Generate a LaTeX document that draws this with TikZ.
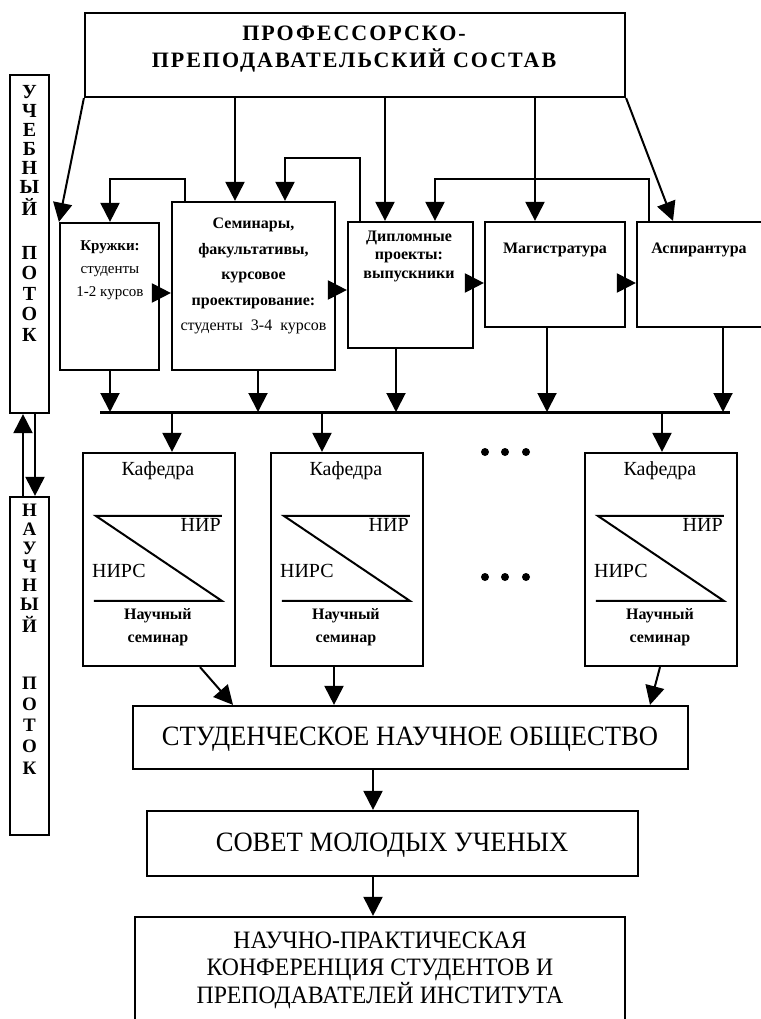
\documentclass[tikz,border=0pt]{standalone}
\usepackage{fontspec}
\setmainfont{Liberation Serif}
\newfontfamily\condfont[FakeStretch=0.95]{Liberation Serif}
\newfontfamily\spacedfont[LetterSpace=9]{Liberation Serif}
\usetikzlibrary{arrows.meta,positioning,fit}
\tikzset{
  box/.style={draw, line width=2.2pt, inner sep=0pt},
  arr/.style={-{Triangle[length=19pt,width=19pt]}, line width=2pt},
  vletter/.style={font=\bfseries\fontsize{20}{20}\selectfont, inner sep=0pt},
  vletters/.style={font=\bfseries\fontsize{19}{19}\selectfont, inner sep=0pt},
  kaftext/.style={font=\fontsize{20}{24}\selectfont, inner sep=0pt},
  semtext/.style={font=\bfseries\fontsize{16}{23}\selectfont, align=center, inner sep=0pt},
  bigtext/.style={font=\condfont\fontsize{28}{28}\selectfont, inner sep=0pt},
  conftext/.style={font=\condfont\fontsize{25}{27.5}\selectfont, align=center, inner sep=0pt},
  zline/.style={line width=2pt}
}
\begin{document}
\begin{tikzpicture}[x=1pt,y=-1pt]
\useasboundingbox (0,0) rectangle (760,1019);

% top box
\node[box, fit={(85,13)(625,97)}] (pps) {};
\node[font=\spacedfont\bfseries\fontsize{22}{27}\selectfont, align=center, inner sep=0pt] (ppst) at (354,49) {ПРОФЕССОРСКО-\\ПРЕПОДАВАТЕЛЬСКИЙ СОСТАВ};

% left vertical boxes
\node[box, fit={(10,75)(49,413)}] (ucheb) {};
\foreach \l/\y [count=\i] in {У/92,Ч/111,Е/130,Б/149,Н/168,Ы/187,Й/207,П/253,О/273,Т/294,О/314,К/335}
  \node[vletter] (u\i) at (29.5,\y) {\l};
\node[box, fit={(10,497)(49,835)}] (nauch) {};
\foreach \l/\y [count=\i] in {Н/510,А/529,У/548,Ч/566,Н/585,Ы/604,Й/624,П/683,О/704,Т/725,О/746,К/768}
  \node[vletters] (n\i) at (29.5,\y) {\l};
\draw[arr] (nauch.north -| 23,0) -- (ucheb.south -| 23,0);
\draw[arr] (ucheb.south -| 35,0) -- (nauch.north -| 35,0);

% row of boxes
\node[box, fit={(60,223)(159,370)}] (kr) {};
\node[box, fit={(172,202)(335,370)}] (sem) {};
\node[box, fit={(348,222)(473,348)}] (dip) {};
\node[box, fit={(485,222)(625,327)}] (mag) {};
\node[box, fit={(637,222)(766,327)}] (asp) {};

\node[font=\fontsize{15}{23}\selectfont, align=center, inner sep=0pt] (krt) at (110,270) {\textbf{Кружки:}\\студенты\\1-2 курсов};
\node[font=\fontsize{16}{25.5}\selectfont, align=center, inner sep=0pt] (semt) at (253.5,276) {\textbf{Семинары,}\\\textbf{факультативы,}\\\textbf{курсовое}\\\textbf{проектирование:}\\студенты\ \ 3-4\ \ курсов};
\node[font=\bfseries\fontsize{16}{18.5}\selectfont, align=center, inner sep=0pt] (dipt) at (409,256) {Дипломные\\проекты:\\выпускники};
\node[font=\bfseries\fontsize{16}{20}\selectfont, inner sep=0pt] (magt) at (555,250) {Магистратура};
\node[font=\bfseries\fontsize{16}{20}\selectfont, inner sep=0pt] (aspt) at (699,250) {Аспирантура};

% arrows from top box
\draw[arr] (pps.south west) -- (kr.north west);
\draw[arr] (pps.south -| 235,0) -- (sem.north -| 235,0);
\draw[arr] (pps.south -| 385,0) -- (dip.north -| 385,0);
\draw[arr] (pps.south -| 535,0) -- (mag.north -| 535,0);
\draw[arr] (pps.south east) -- (asp.north -| 673,0);

% feedback loops
\draw[arr] (sem.north -| 185,0) -- ++(0,-22) -| (kr.north -| 110,0);
\draw[arr] (dip.north -| 360,0) -- ++(0,-63) -| (sem.north -| 285,0);
\draw[arr] (asp.north -| 649,0) -- ++(0,-42) -| (dip.north -| 435,0);

% horizontal arrows
\draw[arr] (kr.east |- 0,293) -- (sem.west |- 0,293);
\draw[arr] (sem.east |- 0,290) -- (dip.west |- 0,290);
\draw[arr] (dip.east |- 0,283) -- (mag.west |- 0,283);
\draw[arr] (mag.east |- 0,283) -- (asp.west |- 0,283);

% bus
\coordinate (busL) at (100,412);
\coordinate (busR) at (730,412);
\draw[line width=3pt] (busL) -- (busR);
\draw[arr] (kr.south -| 110,0) -- (busL -| 110,0);
\draw[arr] (sem.south -| 258,0) -- (busL -| 258,0);
\draw[arr] (dip.south -| 396,0) -- (busL -| 396,0);
\draw[arr] (mag.south -| 547,0) -- (busL -| 547,0);
\draw[arr] (asp.south -| 723,0) -- (busL -| 723,0);

% kafedra boxes
\node[box, fit={(83,453)(235,666)}] (k1) {};
\node[box, fit={(271,453)(423,666)}] (k2) {};
\node[box, fit={(585,453)(737,666)}] (k3) {};
\draw[arr] (busL -| 172,0) -- (k1.north -| 172,0);
\draw[arr] (busL -| 322,0) -- (k2.north -| 322,0);
\draw[arr] (busL -| 662,0) -- (k3.north -| 662,0);

\foreach \k in {k1,k2,k3} {
  \draw[zline] ([shift={(140,64)}]\k.north west) -- ([shift={(14,64)}]\k.north west)
     -- ([shift={(140,149)}]\k.north west) -- ([shift={(12,149)}]\k.north west);
  \node[kaftext] (\k kaf) at ([shift={(76,19)}]\k.north west) {Кафедра};
  \node[kaftext, anchor=north east] (\k nir) at ([shift={(139,66)}]\k.north west) {НИР};
  \node[kaftext, anchor=west] (\k nirs) at ([shift={(10,119)}]\k.north west) {НИРС};
  \node[semtext] (\k sem) at ([shift={(76,175.5)}]\k.north west) {Научный\\семинар};
}

% dots
\foreach \x in {485,505,526} {
  \fill (\x,452) circle (4pt);
  \fill (\x,577) circle (4pt);
}

% lower boxes
\node[box, fit={(133,706)(688,769)}] (sno) {};
\node[bigtext] (snot) at (410,739) {СТУДЕНЧЕСКОЕ НАУЧНОЕ ОБЩЕСТВО};
\node[box, fit={(147,811)(638,876)}] (smu) {};
\node[bigtext] (smut) at (392,845) {СОВЕТ МОЛОДЫХ УЧЕНЫХ};
\node[box, fit={(135,917)(625,1030)}] (conf) {};
\node[conftext] (conft) at (380,970) {НАУЧНО-ПРАКТИЧЕСКАЯ\\КОНФЕРЕНЦИЯ СТУДЕНТОВ И\\ПРЕПОДАВАТЕЛЕЙ ИНСТИТУТА};

\draw[arr] (k1.south -| 200,0) -- (sno.north -| 233,0);
\draw[arr] (k2.south -| 334,0) -- (sno.north -| 334,0);
\draw[arr] (k3.south -| 660,0) -- (sno.north -| 650,0);
\draw[arr] (sno.south -| 373,0) -- (smu.north -| 373,0);
\draw[arr] (smu.south -| 373,0) -- (conf.north -| 373,0);
\end{tikzpicture}
\end{document}
